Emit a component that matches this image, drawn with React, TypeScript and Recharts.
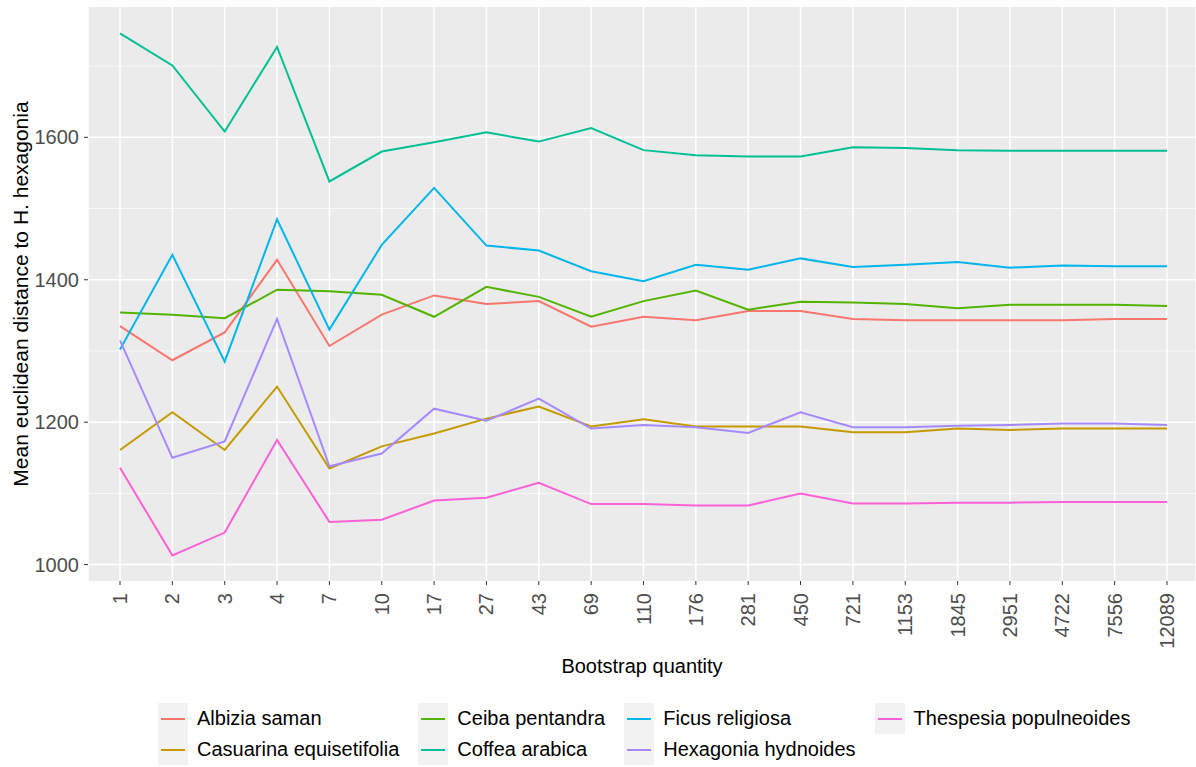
import React from 'react'
import { LineChart, Line, XAxis, YAxis, CartesianGrid } from 'recharts'

const quantities = ['1', '2', '3', '4', '7', '10', '17', '27', '43', '69', '110', '176', '281', '450', '721', '1153', '1845', '2951', '4722', '7556', '12089']

const albizia = [1335, 1287, 1326, 1428, 1307, 1351, 1378, 1366, 1370, 1334, 1348, 1343, 1356, 1356, 1345, 1343, 1343, 1343, 1343, 1345, 1345]
const casuarina = [1161, 1214, 1161, 1250, 1135, 1166, 1184, 1205, 1222, 1194, 1204, 1194, 1194, 1194, 1186, 1186, 1191, 1189, 1191, 1191, 1191]
const ceiba = [1354, 1351, 1346, 1386, 1384, 1379, 1348, 1390, 1376, 1348, 1370, 1385, 1358, 1369, 1368, 1366, 1360, 1365, 1365, 1365, 1363]
const coffea = [1746, 1701, 1608, 1727, 1538, 1580, 1593, 1607, 1594, 1613, 1582, 1575, 1573, 1573, 1586, 1585, 1582, 1581, 1581, 1581, 1581]
const ficus = [1302, 1435, 1285, 1485, 1330, 1449, 1529, 1448, 1441, 1412, 1398, 1421, 1414, 1430, 1418, 1421, 1425, 1417, 1420, 1419, 1419]
const hexagonia = [1315, 1150, 1173, 1345, 1138, 1156, 1219, 1202, 1233, 1191, 1196, 1193, 1185, 1214, 1193, 1193, 1195, 1196, 1198, 1198, 1196]
const thespesia = [1136, 1013, 1045, 1175, 1060, 1063, 1090, 1094, 1115, 1085, 1085, 1083, 1083, 1100, 1086, 1086, 1087, 1087, 1088, 1088, 1088]

const majorTicks = [1000, 1200, 1400, 1600]
const minorTicks = [1100, 1300, 1500, 1700]

const series = [
  { key: 'albizia', name: 'Albizia saman', values: albizia, color: '#F8766D' },
  { key: 'casuarina', name: 'Casuarina equisetifolia', values: casuarina, color: '#C49A00' },
  { key: 'ceiba', name: 'Ceiba pentandra', values: ceiba, color: '#53B400' },
  { key: 'coffea', name: 'Coffea arabica', values: coffea, color: '#00C094' },
  { key: 'ficus', name: 'Ficus religiosa', values: ficus, color: '#00B6EB' },
  { key: 'hexagonia', name: 'Hexagonia hydnoides', values: hexagonia, color: '#A58AFF' },
  { key: 'thespesia', name: 'Thespesia populneoides', values: thespesia, color: '#FB61D7' },
]

const data = quantities.map((q, i) => {
  const row: Record<string, string | number> = { q }
  series.forEach((s) => { row[s.key] = s.values[i] })
  return row
})

const FONT = '"Liberation Sans", Arial, sans-serif'

function XTick({ x, y, payload }: any) {
  return (
    <g transform={`translate(${x},${y})`}>
      <text x={-8} y={0} dy="0.35em" transform="rotate(-90)" textAnchor="end" fontSize={20} fill="#4D4D4D" fontFamily={FONT}>
        {payload.value}
      </text>
    </g>
  )
}

function YLabel(props: any) {
  const vb = props.viewBox || { y: 7, height: 574 }
  const cy = vb.y + vb.height / 2
  return (
    <text x={20} y={cy} transform={`rotate(-90, 20, ${cy})`} textAnchor="middle" dominantBaseline="central" fontSize={21} fill="#000" fontFamily={FONT}>
      Mean euclidean distance to H. hexagonia
    </text>
  )
}

// legend columns, filled top-down like ggplot
const legendCols = [series.slice(0, 2), series.slice(2, 4), series.slice(4, 6), series.slice(6)]

export default function App() {
  return (
    <div style={{ position: 'absolute', left: 0, top: 0, width: 1196, height: 767, background: '#fff', fontFamily: FONT, overflow: 'hidden' }}>
      <LineChart width={1196} height={767} data={data} margin={{ top: 7, right: 0, bottom: 0, left: 0 }}>
        <CartesianGrid fill="#EBEBEB" stroke="#FFFFFF" strokeWidth={0.7} horizontalValues={minorTicks} vertical={false} />
        <CartesianGrid stroke="#FFFFFF" strokeWidth={1.5} horizontalValues={majorTicks} />
        <XAxis
          dataKey="q"
          interval={0}
          height={186}
          padding={{ left: 32, right: 29 }}
          axisLine={false}
          tickSize={4}
          tickMargin={0}
          tickLine={{ stroke: '#333333' }}
          tick={<XTick />}
          label={{ value: 'Bootstrap quantity', position: 'insideTop', offset: 78, fontSize: 20, fill: '#000', fontFamily: FONT }}
        />
        <YAxis
          width={88}
          domain={[977, 1783]}
          ticks={majorTicks}
          allowDataOverflow
          axisLine={false}
          tickSize={4}
          tickMargin={5}
          tickLine={{ stroke: '#333333' }}
          tick={{ fontSize: 20, fill: '#4D4D4D', fontFamily: FONT }}
          label={YLabel}
        />
        {series.map((s) => (
          <Line
            key={s.key}
            type="linear"
            dataKey={s.key}
            name={s.name}
            stroke={s.color}
            strokeWidth={2}
            dot={false}
            activeDot={false}
            isAnimationActive={false}
          />
        ))}
      </LineChart>
      <div style={{ position: 'absolute', left: 158, top: 703, display: 'flex', gap: 19 }}>
        {legendCols.map((col, ci) => (
          <div key={ci} style={{ display: 'flex', flexDirection: 'column' }}>
            {col.map((s) => (
              <div key={s.key} style={{ display: 'flex', alignItems: 'center', height: 31 }}>
                <div style={{ width: 30, height: 31, background: '#F2F2F2', display: 'flex', alignItems: 'center', justifyContent: 'center' }}>
                  <div style={{ width: 24, height: 2, background: s.color }} />
                </div>
                <span style={{ marginLeft: 9, fontSize: 20, color: '#000', whiteSpace: 'nowrap' }}>{s.name}</span>
              </div>
            ))}
          </div>
        ))}
      </div>
    </div>
  )
}
